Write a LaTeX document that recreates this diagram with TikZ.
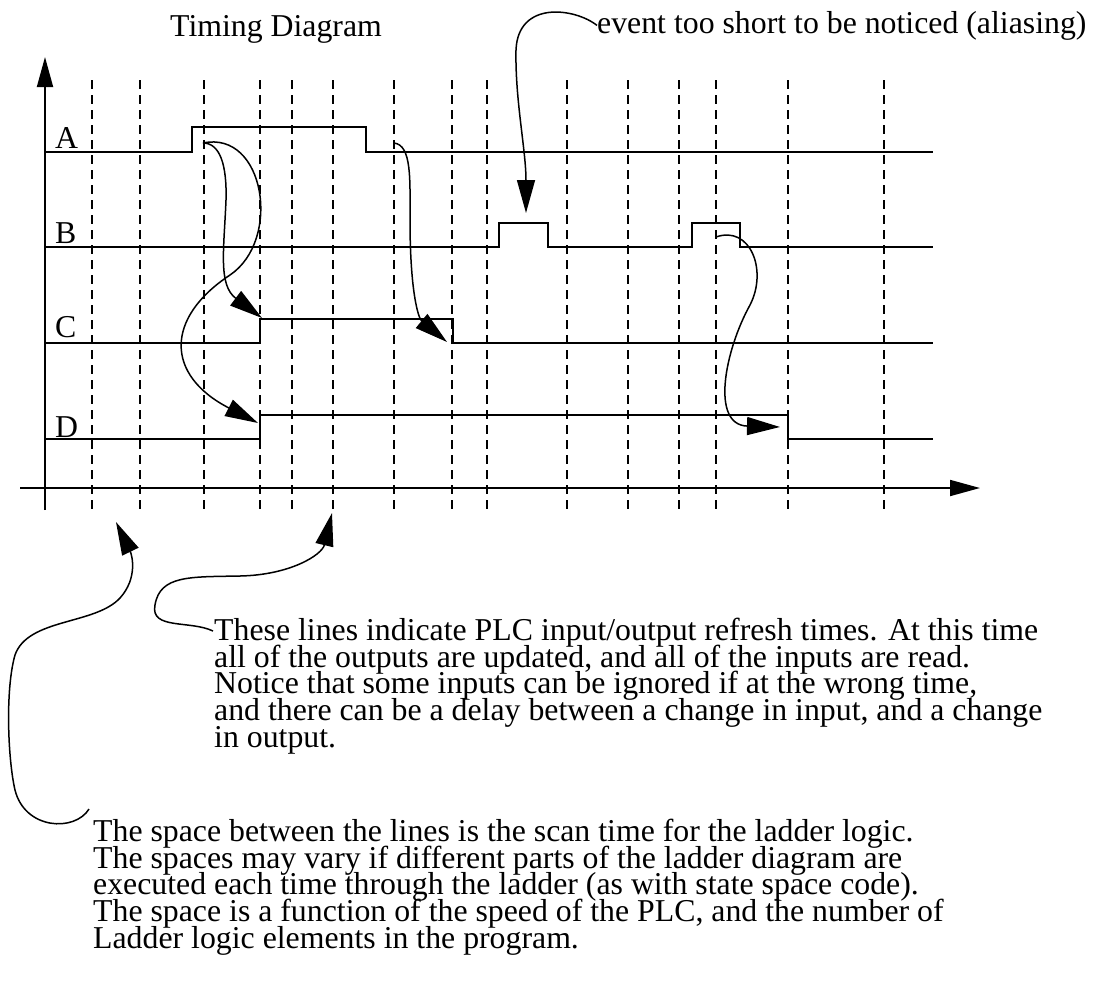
\documentclass[tikz,border=0pt]{standalone}
\usepackage{fontspec}
\setmainfont{Liberation Serif}
\usepackage{tikz}
\usetikzlibrary{arrows.meta}
\lineskiplimit=-100pt

\begin{document}
\begin{tikzpicture}[
    x=1pt, y=-1pt,
    font=\fontsize{31.8pt}{26.6pt}\selectfont,
    signal/.style={line width=2.1pt, line join=miter},
    refresh/.style={line width=1.6pt, dash pattern=on 9pt off 6pt},
    axis/.style={-{Triangle[length=30pt,width=16pt]}, line width=1.8pt},
    arrow/.style={-{Triangle[length=33pt,width=18pt]}, line width=1.5pt},
    plaintext/.style={anchor=base west, inner sep=0pt},
    note/.style={anchor=base west, inner sep=0pt, align=left}
]
\useasboundingbox (0,0) rectangle (1093,989);

\foreach \x in {92,140,204,260,292,333,394,452,487,567,628,679,716,788,884}
    \draw[refresh] (\x,80) -- (\x,511);

\draw[axis] (45,510) -- (45,57);
\draw[axis] (20,488) -- (980,488);

\draw[signal] (45,152) -- (192,152) -- (192,127) -- (366,127) -- (366,152) -- (933,152);
\draw[signal] (45,247) -- (499,247) -- (499,223) -- (548,223) -- (548,247)
    -- (692,247) -- (692,223) -- (740,223) -- (740,247) -- (933,247);
\draw[signal] (45,343) -- (260,343) -- (260,319) -- (453,319) -- (453,343) -- (933,343);
\draw[signal] (45,439) -- (260,439) -- (260,415) -- (788,415) -- (788,439) -- (933,439);

\node[plaintext] (labA) at (55,148) {A};
\node[plaintext] (labB) at (55,243) {B};
\node[plaintext] (labC) at (55,337) {C};
\node[plaintext] (labD) at (55,437) {D};

\node[plaintext] (title) at (170,36) {Timing Diagram};
\node[plaintext] (event) at (597,33) {event too short to be noticed (aliasing)};
% base of a multi-line node is its last line
\node[note] (io) at (214,747)
    {These lines indicate PLC input/output refresh times. At this time\\
     all of the outputs are updated, and all of the inputs are read.\\
     Notice that some inputs can be ignored if at the wrong time,\\
     and there can be a delay between a change in input, and a change\\
     in output.};
\node[note] (scan) at (93,948)
    {The space between the lines is the scan time for the ladder logic.\\
     The spaces may vary if different parts of the ladder diagram are\\
     executed each time through the ladder (as with state space code).\\
     The space is a function of the speed of the PLC, and the number of\\
     Ladder logic elements in the program.};

\coordinate (aUp) at (203,143);
\coordinate (aDown) at (394,143);
\coordinate (bPulse) at (716,237);
\coordinate (cRise) at (262,318);
\coordinate (cFall) at (447,342);
\coordinate (dRise) at (258,423);
\coordinate (dFall) at (780,427);
\coordinate (evTip) at (526,213);
\coordinate (ioTip) at (332,513);
\coordinate (scanTip) at (116,522);

\draw[arrow] (aUp) .. controls (220,143) and (227,165) .. (226,200)
    .. controls (224,250) and (218,285) .. (cRise);
\draw[arrow] (aUp) .. controls (265,130) and (282,240) .. (230,275)
    .. controls (165,318) and (165,375) .. (dRise);
\draw[arrow] (aDown) .. controls (412,145) and (410,180) .. (410,220)
    .. controls (410,290) and (418,318) .. (cFall);
\draw[arrow] (bPulse) .. controls (750,225) and (768,270) .. (750,305)
    .. controls (725,350) and (710,425) .. (dFall);
\draw[arrow] (event.west) .. controls (575,8) and (518,0) .. (516,50)
    .. controls (515,100) and (526,150) .. (evTip);
\draw[arrow] ([shift={(-1,13)}]io.north west) .. controls (190,620) and (150,630) .. (155,605)
    .. controls (160,575) and (190,577) .. (240,576)
    .. controls (290,575) and (322,555) .. (ioTip);
\draw[arrow] ([shift={(-4,-10)}]scan.north west) .. controls (75,832) and (25,830) .. (15,790)
    .. controls (8,760) and (5,690) .. (15,655)
    .. controls (28,618) and (95,625) .. (120,598)
    .. controls (138,578) and (132,555) .. (scanTip);
\end{tikzpicture}
\end{document}
